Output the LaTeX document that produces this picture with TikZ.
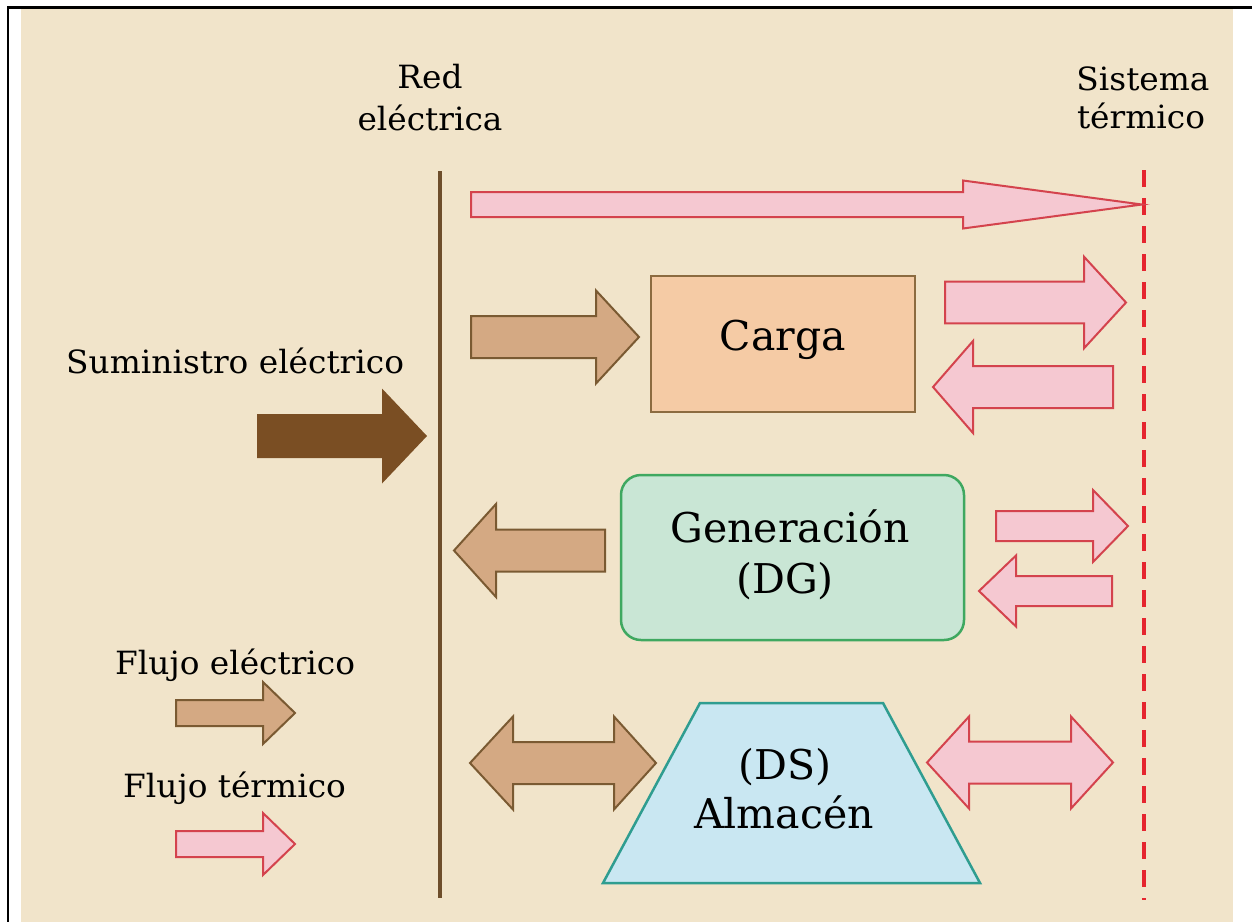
\documentclass[tikz,border=0pt]{standalone}
\usepackage{fontspec}
\setmainfont{DejaVu Serif}
\newfontfamily\labelfont[FakeStretch=1.025]{DejaVu Serif}

\definecolor{bgbeige}{HTML}{F1E4CA}
\definecolor{gridbrown}{HTML}{6E4E2B}
\definecolor{heatred}{HTML}{E5252F}
\definecolor{pinkfill}{HTML}{F5C8D1}
\definecolor{pinkline}{HTML}{D4434D}
\definecolor{tanfill}{HTML}{D4A983}
\definecolor{tanline}{HTML}{7A5A32}
\definecolor{supply}{HTML}{7A4E23}
\definecolor{loadfill}{HTML}{F5CBA5}
\definecolor{loadline}{HTML}{8C6B40}
\definecolor{genfill}{HTML}{C9E6D5}
\definecolor{genline}{HTML}{3FA860}
\definecolor{storefill}{HTML}{C9E7F2}
\definecolor{storeline}{HTML}{2F9D90}

% single block arrow: style, shaft end, head base, tip, centre y, half shaft, half head
\newcommand{\blockarrowone}[7]{%
  \path[#1] (#2,#5-#6) -- (#3,#5-#6) -- (#3,#5-#7) -- (#4,#5)
    -- (#3,#5+#7) -- (#3,#5+#6) -- (#2,#5+#6) -- cycle;}
% double block arrow: style, left tip, left base, right base, right tip, centre y, half shaft, half head
\newcommand{\blockarrowtwo}[8]{%
  \path[#1] (#2,#6) -- (#3,#6-#8) -- (#3,#6-#7) -- (#4,#6-#7) -- (#4,#6-#8)
    -- (#5,#6) -- (#4,#6+#8) -- (#4,#6+#7) -- (#3,#6+#7) -- (#3,#6+#8) -- cycle;}

\tikzset{
  heatarrow/.style={fill=pinkfill, draw=pinkline, line width=2pt, line join=miter},
  elecarrow/.style={fill=tanfill, draw=tanline, line width=2pt, line join=miter},
  supplyarrow/.style={fill=supply},
  label/.style={font=\labelfont\fontsize{32}{38}\selectfont, inner sep=0pt, text=black},
  boxtext/.style={font=\fontsize{41}{49}\selectfont, inner sep=0pt, text=black},
  loadbox/.style={rectangle, fill=loadfill, draw=loadline, line width=2.5pt, inner sep=0pt},
  genbox/.style={rectangle, rounded corners=20pt, fill=genfill, draw=genline, line width=2.5pt, inner sep=0pt},
}

\begin{document}
\begin{tikzpicture}[x=1pt, y=-1pt]
  \useasboundingbox (0,0) rectangle (1252,922);
  % page and frame
  \fill[white] (0,0) rectangle (1252,922);
  \fill[bgbeige] (21,9) rectangle (1233,922);
  \draw[black, line width=2.7pt] (7,7.3) -- (1252,7.3);
  \draw[black, line width=2.5pt] (8,6) -- (8,922);

  % grid and thermal system boundaries
  \coordinate (gridtop) at (440,171);
  \coordinate (gridbot) at (440,898);
  \draw[gridbrown, line width=4pt] (gridtop) -- (gridbot);
  \coordinate (thermtop) at (1144,170);
  \coordinate (thermbot) at (1144,900);
  \draw[heatred, line width=4pt, dash pattern=on 17pt off 11pt] (thermtop) -- (thermbot);

  % headings
  \node[label, anchor=base] (red1) at (430,88) {Red};
  \node[label, anchor=base] (red2) at (430,130) {eléctrica};
  \node[label, anchor=base] (sis1) at (1143,90) {Sistema};
  \node[label, anchor=base] (sis2) at (1141,128) {térmico};
  \node[label, anchor=base west] (sum) at (66,373) {Suministro eléctrico};
  \node[label, anchor=base west] (fel) at (115,674) {Flujo eléctrico};
  \node[label, anchor=base west] (fte) at (123,797) {Flujo térmico};

  % blocks
  \node[loadbox, minimum width=264pt, minimum height=136pt] (carga) at (783,344) {};
  \node[boxtext, anchor=base] (cargatxt) at (783,350) {Carga};

  \node[genbox, minimum width=343pt, minimum height=165pt] (gen) at (792.5,557.5) {};
  \node[boxtext, anchor=base] (gentxt1) at (790,542) {Generación};
  \node[boxtext, anchor=base] (gentxt2) at (785,593) {(DG)};

  \coordinate (stA) at (700,703);
  \coordinate (stB) at (883,703);
  \coordinate (stC) at (980,883);
  \coordinate (stD) at (603,883);
  \draw[fill=storefill, draw=storeline, line width=2.5pt, line join=miter] (stA) -- (stB) -- (stC) -- (stD) -- cycle;
  \node[boxtext, anchor=base] (sttxt1) at (785,779) {(DS)};
  \node[boxtext, anchor=base] (sttxt2) at (784,828) {Almacén};

  % thermal bypass to the thermal system
  \blockarrowone{heatarrow}{471}{963}{1142}{204.5}{12.5}{24}

  % electrical flows
  \blockarrowone{supplyarrow}{257}{382}{427}{436}{22}{47.5}
  \blockarrowone{elecarrow}{471}{596}{639}{337}{21}{46.5}
  \blockarrowone{elecarrow}{605}{496}{454}{550.5}{21}{46.5}
  \blockarrowtwo{elecarrow}{470}{513}{614}{656}{763}{21}{46.5}

  % thermal flows
  \blockarrowone{heatarrow}{945}{1084}{1126}{302.5}{20.8}{45.8}
  \blockarrowone{heatarrow}{1113}{973}{933}{387}{21}{46}
  \blockarrowone{heatarrow}{996}{1093}{1128}{526}{15}{36}
  \blockarrowone{heatarrow}{1112}{1016}{979}{591}{15}{35.5}
  \blockarrowtwo{heatarrow}{927}{969}{1071}{1113}{762.5}{21}{46}

  % legend
  \blockarrowone{elecarrow}{176}{263}{295}{713}{13}{31}
  \blockarrowone{heatarrow}{176}{263}{295}{844}{13}{31}
\end{tikzpicture}
\end{document}
